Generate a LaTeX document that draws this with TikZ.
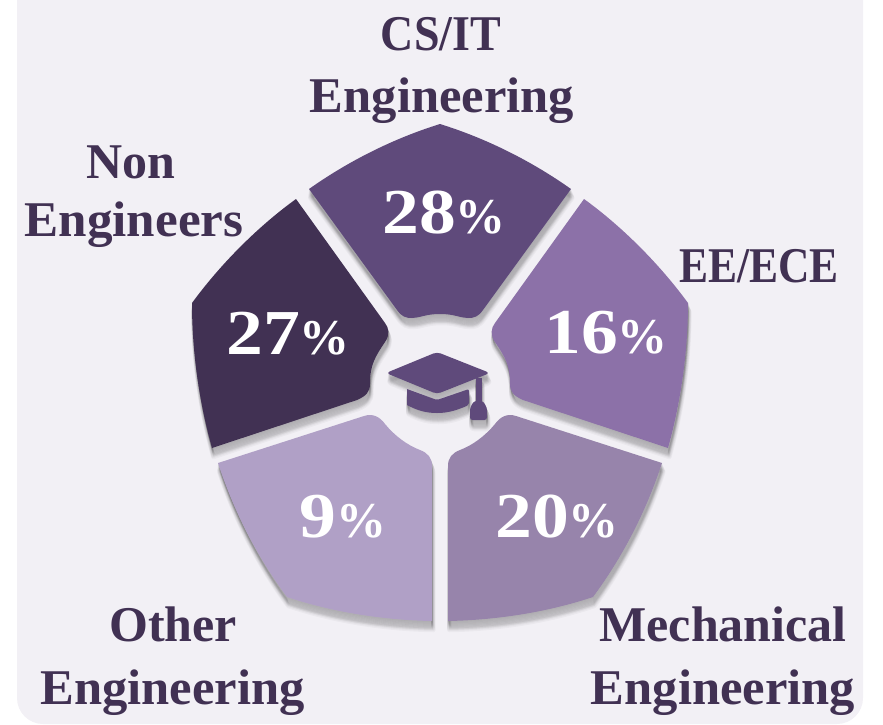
\documentclass[tikz,border=0pt]{standalone}
\usepackage{fontspec}
\setmainfont{Liberation Serif}
\newfontfamily\digitfont[FakeStretch=1.15]{Liberation Serif}
\newfontfamily\eefont[FakeStretch=.87]{Liberation Serif}
\newfontfamily\csfont[FakeStretch=.92]{Liberation Serif}
\newfontfamily\engfont[FakeStretch=1.012]{Liberation Serif}
\newfontfamily\engrsfont[FakeStretch=1.023]{Liberation Serif}
\definecolor{panelbg}{HTML}{F2F0F5}
\definecolor{inkdark}{HTML}{413153}
\definecolor{segtop}{HTML}{5F4A7B}
\definecolor{segleft}{HTML}{413153}
\definecolor{segright}{HTML}{8C71A8}
\definecolor{seglr}{HTML}{9784AB}
\definecolor{segll}{HTML}{B0A0C6}
\newcommand\segTop{(440,124) .. controls (395,138) and (350,160) .. (309,189) -- (397,310) .. controls (402,317) and (406,318) .. (412,318) .. controls (420,318) and (425,314) .. (440,314) .. controls (455,314) and (460,318) .. (468,318) .. controls (474,318) and (478,317) .. (483,310) -- (571,189) .. controls (530,160) and (485,138) .. (440,124) -- cycle}
\newcommand\segLeft{(296,199) .. controls (260,225) and (222,262) .. (192,303) .. controls (192,355) and (200,405) .. (212,448) -- (357,400) .. controls (366,396) and (370,392) .. (370,384) .. controls (370,365) and (375,357) .. (385,342) .. controls (390,335) and (389,328) .. (385,323) -- cycle}
\newcommand\segRight{(584,199) .. controls (620,225) and (658,262) .. (688,303) .. controls (688,355) and (680,405) .. (668,448) -- (523,400) .. controls (514,396) and (510,392) .. (510,384) .. controls (510,365) and (505,357) .. (495,342) .. controls (490,335) and (491,328) .. (495,323) -- cycle}
\newcommand\segLR{(448,621) -- (448,466) .. controls (448,458) and (452,453) .. (460,450) .. controls (473,445) and (485,436) .. (495,424) .. controls (500,417) and (507,413) .. (516,416) -- (662,463) .. controls (646,512) and (622,558) .. (593,597) .. controls (548,612) and (498,620) .. (448,621) -- cycle}
\newcommand\segLL{(432,621) -- (432,466) .. controls (432,458) and (428,453) .. (420,450) .. controls (407,445) and (395,436) .. (385,424) .. controls (380,417) and (373,413) .. (364,416) -- (218,463) .. controls (234,512) and (258,558) .. (287,597) .. controls (332,612) and (382,620) .. (432,621) -- cycle}
\newcommand\hatBoard{[rounded corners=4] (386,373) -- (437,352) -- (490,373) -- (437,394) -- cycle}
\newcommand\hatBase{[rounded corners=2] (407,389) -- (437,400) -- (469,389) -- (469,405) [sharp corners] .. controls (455,411) and (447,413) .. (437,413) .. controls (427,413) and (418,411) .. (407,405) -- cycle}
\newcommand\hatCord{(475.5,378) rectangle (481.5,404)}
\newcommand\hatTassel{[rounded corners=2.5] (474,401) -- (483,401) -- (487,408) -- (487,420) -- (470,420) -- (470,408) -- cycle}
\tikzset{
  lab/.style={inner sep=0pt,anchor=base,text=inkdark,font=\fontsize{50}{50}\selectfont\bfseries},
  pct/.style={inner sep=0pt,anchor=base west,text=white,font=\fontsize{64}{64}\digitfont\bfseries},
  softshadow/.style={shift={(0.15*#1,#1)},black,draw opacity=.03,fill opacity=.03,line width=0.5pt*#1,line join=round,fill}
}
\newcommand\pctval[1]{#1{\fontsize{50}{50}\selectfont\rmfamily\bfseries\%}}
\begin{document}
\begin{tikzpicture}[x=1pt,y=-1pt]
\useasboundingbox (0,0) rectangle (883,724);
\fill[panelbg] (17,0) -- (863,0) [rounded corners=26pt] -- (863,724) -- (17,724) [sharp corners] -- cycle;
% soft shadows
\foreach \w in {1,2,...,9}{
  \draw[softshadow=\w] \segTop;
  \draw[softshadow=\w] \segLeft;
  \draw[softshadow=\w] \segRight;
  \draw[softshadow=\w] \segLR;
  \draw[softshadow=\w] \segLL;
  \draw[softshadow=\w] \hatBoard;
  \draw[softshadow=\w] \hatBase;
  \draw[softshadow=\w] \hatCord;
  \draw[softshadow=\w] \hatTassel;
}
% segments
\fill[segtop] \segTop;
\fill[segleft] \segLeft;
\fill[segright] \segRight;
\fill[seglr] \segLR;
\fill[segll] \segLL;
% graduation cap
\fill[segtop] \hatBoard;
\fill[segtop] \hatBase;
\fill[segtop] \hatCord;
\fill[segtop] \hatTassel;
% outer labels
\node[lab] (csA) at (441,50) {\csfont CS/IT};
\node[lab] (csB) at (442,112) {\engfont Engineering};
\node[lab] (neA) at (130.5,178) {Non};
\node[lab] (neB) at (134,236) {\engrsfont Engineers};
\node[lab] (ee) at (759,282) {\eefont EE/ECE};
\node[lab] (otA) at (173,641) {Other};
\node[lab] (otB) at (172.5,704) {\engfont Engineering};
\node[lab] (meA) at (723,641) {Mechanical};
\node[lab] (meB) at (723,704) {\engfont Engineering};
% percentages
\node[pct] (pA) at (382,233) {\pctval{28}};
\node[pct] (pB) at (226,354) {\pctval{27}};
\node[pct] (pC) at (544,353) {\pctval{16}};
\node[pct] (pD) at (495,537) {\pctval{20}};
\node[pct] (pE) at (299,537) {\pctval{9}};
\end{tikzpicture}
\end{document}
